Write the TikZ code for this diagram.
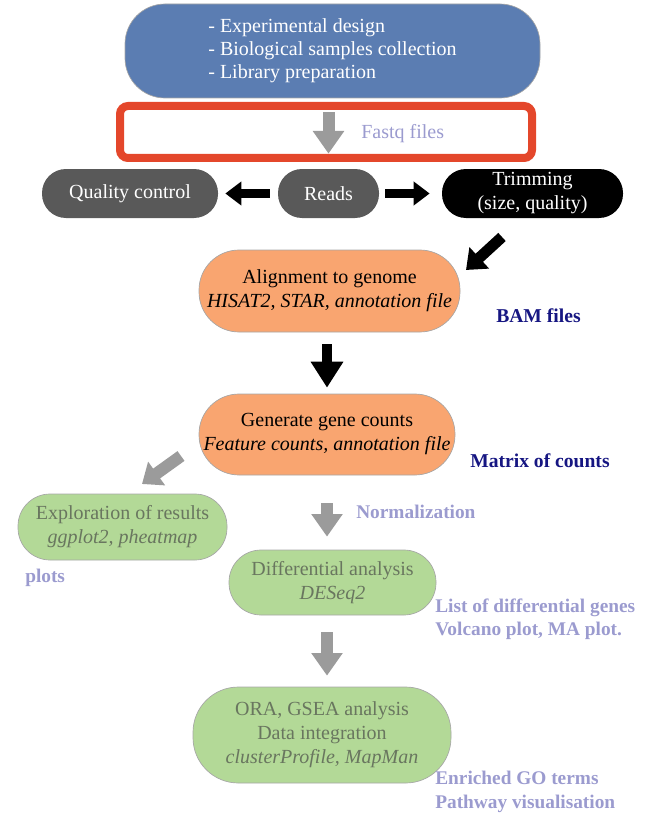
\documentclass[tikz,border=0pt]{standalone}
\usepackage{fontspec}
\setmainfont{Liberation Serif}
\usetikzlibrary{arrows.meta,calc}
\definecolor{boxblue}{RGB}{91,125,178}
\definecolor{framered}{RGB}{228,71,43}
\definecolor{darkgreybox}{RGB}{89,89,89}
\definecolor{peach}{RGB}{249,165,112}
\definecolor{leaf}{RGB}{179,217,151}
\definecolor{leaftext}{RGB}{105,118,95}
\definecolor{lavender}{RGB}{155,155,207}
\definecolor{navy}{RGB}{22,22,130}
\definecolor{arrowgrey}{RGB}{155,155,155}
\begin{document}
\begin{tikzpicture}[x=0.75pt,y=-0.75pt,
  every node/.style={inner sep=0pt, align=center, font=\fontsize{15}{18}\selectfont},
  pill/.style={rectangle, draw=gray!70, line width=0.5pt},
  bluepill/.style={pill, fill=boxblue, text=white},
  greypill/.style={pill, draw=none, fill=darkgreybox, text=white, minimum height=36.75pt, rounded corners=18pt},
  blackpill/.style={pill, draw=none, fill=black, text=white, minimum height=36.75pt, rounded corners=18pt},
  orangepill/.style={pill, fill=peach, text=black},
  greenpill/.style={pill, fill=leaf, text=leaftext},
  note/.style={anchor=west, text=lavender, font=\fontsize{14.5}{17.5}\selectfont\bfseries, align=left},
  navynote/.style={anchor=west, text=navy, font=\fontsize{14.7}{17.5}\selectfont\bfseries},
  greyarrow/.style={draw=arrowgrey, line width=9pt, -{Triangle[width=22.5pt,length=17pt]}},
  blackarrowsmall/.style={draw=black, line width=6.75pt, -{Triangle[width=17.25pt,length=12pt]}},
  blackarrowdiag/.style={draw=black, line width=8.25pt, -{Triangle[width=21pt,length=13.5pt]}},
  blackarrowbig/.style={draw=black, line width=7.5pt, -{Triangle[width=23.25pt,length=19.5pt]}},
  greydiag/.style={draw=arrowgrey, line width=9pt, -{Triangle[width=21pt,length=13.5pt]}}
]
\useasboundingbox (0,0) rectangle (662,813);

% top box
\node[bluepill, minimum width=311.25pt, minimum height=70.5pt, rounded corners=30pt, align=left,
      font=\fontsize{15}{17.25}\selectfont] (top) at (332.5,51)
  {- Experimental design\\- Biological samples collection\\- Library preparation};

% red frame
\node[draw=framered, line width=6pt, rounded corners=6pt, minimum width=309pt, minimum height=39pt] (frame) at (326,132) {};
\node[anchor=west, text=lavender] (fastq) at (361,134) {Fastq files};

% row of reads
\node[greypill, minimum width=132pt] (qc) at (130,193.5) {Quality control};
\node[greypill, minimum width=75.75pt] (reads) at (328.5,193.5) {Reads};
\node[blackpill, minimum width=135.75pt] (trim) at (532.5,193.5) {Trimming\\(size, quality)};

% alignment
\node[orangepill, minimum width=195.75pt, minimum height=61.5pt, rounded corners=30pt] (align) at (329.5,291)
  {Alignment to genome\\\textit{HISAT2, STAR, annotation file}};
\node[navynote] (bam) at (496,316) {BAM files};

% counts
\node[orangepill, minimum width=192pt, minimum height=60.75pt, rounded corners=30pt] (counts) at (327,434.5)
  {Generate gene counts\\\textit{Feature counts, annotation file}};
\node[navynote] (matrix) at (470,461) {Matrix of counts};

% exploration
\node[greenpill, minimum width=156.75pt, minimum height=49.5pt, rounded corners=24pt] (explo) at (122.5,527)
  {Exploration of results\\\textit{ggplot2, pheatmap}};
\node[note] (plots) at (25,578) {plots};

% differential
\node[note] (norm) at (356,512) {Normalization};
\node[greenpill, minimum width=155.25pt, minimum height=48.75pt, rounded corners=24pt] (diff) at (332.5,582.5)
  {Differential analysis\\\textit{DESeq2}};
\node[note] (listdiff) at (435,619.5) {List of differential genes\\Volcano plot, MA plot.};

% ORA
\node[greenpill, minimum width=193.5pt, minimum height=72pt, rounded corners=34pt] (ora) at (322,735)
  {ORA, GSEA analysis\\Data integration\\\textit{clusterProfile, MapMan}};
\node[note] (enriched) at (435,792) {Enriched GO terms\\Pathway visualisation};

% connectors
\draw[greyarrow, shorten <=10.5pt, shorten >=11.25pt] (top.south -| reads.north) -- (reads.north);
\draw[blackarrowsmall, shorten <=6pt, shorten >=5.25pt] (reads.west) -- (qc.east);
\draw[blackarrowsmall, shorten <=4.5pt, shorten >=9pt] (reads.east) -- (trim.west);
\coordinate (trimout) at (502,237);
\coordinate (alignin) at (466,270);
\draw[blackarrowdiag] (trimout) -- (alignin);
\draw[blackarrowbig, shorten <=9pt, shorten >=4.5pt] (align.south -| counts.south) -- (counts.north);
\coordinate (countsout) at (181,456);
\coordinate (exploin) at (142,484);
\draw[greydiag] (countsout) -- (exploin);
\draw[greyarrow, shorten <=21pt, shorten >=9.75pt] (counts.south) -- (counts.south |- diff.north);
\draw[greyarrow, shorten <=12.75pt, shorten >=8.25pt] (diff.south -| counts.south) -- (counts.south |- ora.north);
\end{tikzpicture}
\end{document}
